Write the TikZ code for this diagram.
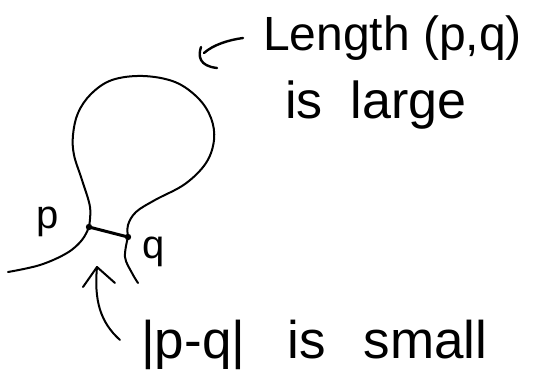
\documentclass[tikz,border=0pt]{standalone}
\usepackage{fontspec}
\setmainfont{Liberation Sans}
\usetikzlibrary{arrows.meta}
\begin{document}
\begin{tikzpicture}[x=1pt,y=-1pt, line cap=round, line join=round,
  ink/.style={line width=2pt},
  lbl/.style={inner sep=0pt, anchor=base west}]
\useasboundingbox (0,0) rectangle (537,391);
\coordinate (P) at (89,227);
\coordinate (Q) at (128,237);
% loop
\draw[ink] plot[smooth, tension=0.6] coordinates {(P) (90,207) (82,180) (74,155) (73,135) (78,113) (91,94) (112,80) (143,76) (175,82) (198,98) (211,118) (214,140) (206,163) (185,184) (155,200) (136,212) (128,225) (Q)};
% tails
\draw[ink] plot[smooth, tension=0.6] coordinates {(P) (82,240) (67,253) (40,265) (8,272)};
\draw[ink] plot[smooth, tension=0.6] coordinates {(Q) (125,257) (132,273) (138,283)};
% chord
\draw[line width=3pt] (P) -- (Q);
\fill (P) circle (3.2pt);
\fill (Q) circle (3.2pt);
% labels
\node[lbl, font=\fontsize{40}{44}\selectfont] (lp) at (36,228) {p};
\node[lbl, font=\fontsize{40}{44}\selectfont] (lq) at (142,258) {q};
\node[lbl, font=\fontsize{48}{52}\selectfont] (len) at (263,50) {Length (p,q)};
\node[lbl, font=\fontsize{52}{56}\selectfont] (lar) at (285,118) {is\hspace{28pt}large};
\node[lbl, font=\fontsize{53}{57}\selectfont] (sma) at (141,358) {|p-q|\hspace{42pt}is\hspace{38pt}small};
% arrow to chord
\coordinate (ua) at (97,267);
\coordinate (ub) at (120,340);
\draw[ink] (ub) .. controls (100,322) and (94,300) .. (ua);
\draw[ink] (83,287) -- (ua) -- (115,283);
% arrow to loop
\coordinate (ta) at (243,38);
\coordinate (tt) at (204,53);
\coordinate (tb) at (217,68);
\draw[line width=2.4pt] (ta) .. controls (228,40) and (213,45) .. (tt);
\draw[line width=2.4pt] (201,47) .. controls (198,56) and (199,66) .. (tb);
\end{tikzpicture}
\end{document}
